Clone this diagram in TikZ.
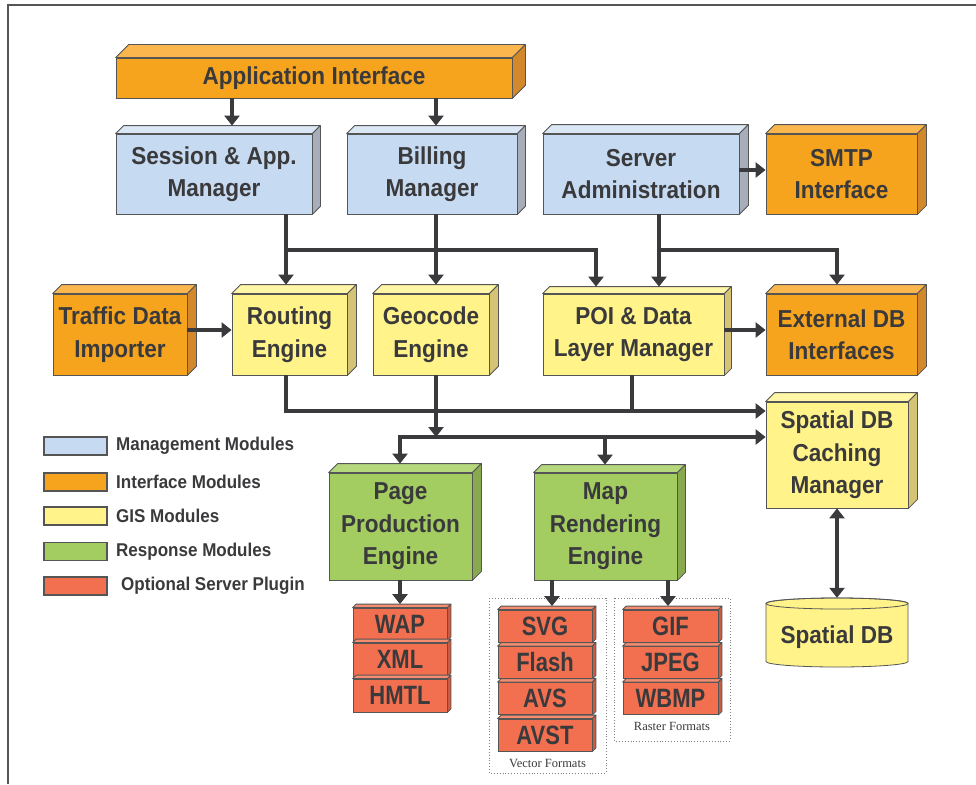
\documentclass[tikz,border=0pt]{standalone}
\usepackage{fontspec}
\setmainfont{Liberation Serif}
\newfontfamily\bfam{Liberation Sans}[FakeStretch=0.92]
\newfontfamily\ffam{Liberation Sans}[FakeStretch=0.83]
\usetikzlibrary{arrows.meta,calc}
\definecolor{edge}{HTML}{555555}
\definecolor{txt}{HTML}{3A3A3C}
\definecolor{mgF}{HTML}{C6DAF1}\definecolor{mgT}{HTML}{DCE7F5}\definecolor{mgS}{HTML}{A7AEBA}
\definecolor{ifF}{HTML}{F6A41E}\definecolor{ifT}{HTML}{FBB74E}\definecolor{ifS}{HTML}{D3882C}
\definecolor{giF}{HTML}{FFF389}\definecolor{giT}{HTML}{FFF6A6}\definecolor{giS}{HTML}{D5C475}
\definecolor{reF}{HTML}{A3CD60}\definecolor{reT}{HTML}{B6D87D}\definecolor{reS}{HTML}{88A94D}
\definecolor{plF}{HTML}{F26F50}\definecolor{plT}{HTML}{F68D70}\definecolor{plS}{HTML}{C95B42}
\tikzset{
  box/.style={draw=edge, line width=0.8pt, inner sep=0pt, align=center, text=txt,
    font=\bfam\bfseries\fontsize{24.5}{32.5}\selectfont},
  fmtbox/.style={box, font=\ffam\bfseries\fontsize{26.5}{30}\selectfont},
  face/.style={draw=edge, line width=0.8pt, line join=round},
  arr/.style={draw=txt, line width=3.2pt, -{Triangle[width=15pt,length=10pt]}},
  ln/.style={draw=txt, line width=3.2pt},
  darr/.style={draw=txt, line width=3.2pt, {Triangle[width=15pt,length=10pt]}-{Triangle[width=15pt,length=10pt]}},
  swatch/.style={draw=edge, line width=1.2pt, minimum width=63pt, minimum height=18pt, inner sep=0pt},
  legtext/.style={anchor=west, text=txt, inner sep=0pt, font=\bfam\bfseries\fontsize{18.5}{20}\selectfont},
  fmtlabel/.style={text=txt, inner sep=0pt, font=\fontsize{12.5}{14}\selectfont},
  dotbox/.style={draw=gray, dotted, line width=0.9pt},
  frameline/.style={draw=edge, line width=2pt}
}
% #1 name, #2 centre, #3 width, #4 height, #5 depth, #6 colour family, #7 style, #8 text
\newcommand\cubebox[8]{%
  \node[#7, fill=#6F, minimum width=#3pt, minimum height=#4pt] (#1) at #2 {#8};
  \filldraw[face, fill=#6T] (#1.north west) -- ++(#5,-#5) -- ($(#1.north east)+(#5,-#5)$) -- (#1.north east) -- cycle;
  \filldraw[face, fill=#6S] (#1.north east) -- ++(#5,-#5) -- ($(#1.south east)+(#5,-#5)$) -- (#1.south east) -- cycle;
  \coordinate (#1-t) at ($(#1.north west)+(#5,-#5)$);
}
\begin{document}
\begin{tikzpicture}[x=1pt,y=-1pt]
\useasboundingbox (0,0) rectangle (976,784);
\fill[white] (0,0) rectangle (976,784);
\draw[frameline] (7,5.5) -- (976,5.5);
\draw[frameline] (7.7,5.5) -- (7.7,784);

% boxes
\cubebox{app}{(314,78)}{396}{40}{13}{if}{box}{Application Interface}
\cubebox{sess}{(214,174)}{196}{80}{8}{mg}{box}{Session \& App.\\Manager}
\cubebox{bill}{(432,174)}{170}{80}{8}{mg}{box}{Billing\\Manager}
\cubebox{srv}{(641,174)}{196}{80}{9}{mg}{box}{Server\\Administration}
\cubebox{smtp}{(841.5,174)}{151}{80}{9}{if}{box}{SMTP\\Interface}
\cubebox{traf}{(120,334.5)}{134}{81}{9}{if}{box}{Traffic Data\\Importer}
\cubebox{rout}{(289.5,334.5)}{115}{81}{9}{gi}{box}{Routing\\Engine}
\cubebox{geo}{(431,334.5)}{116}{81}{9}{gi}{box}{Geocode\\Engine}
\cubebox{poi}{(633.5,334.5)}{181}{81}{7}{gi}{box}{POI \& Data\\Layer Manager}
\cubebox{ext}{(841.5,334.5)}{151}{81}{9}{if}{box}{External DB\\Interfaces}
\cubebox{cache}{(837,455)}{142}{106}{9}{gi}{box}{Spatial DB\\Caching\\Manager}
\cubebox{page}{(400.5,526.5)}{143}{107}{9}{re}{box}{Page\\Production\\Engine}
\cubebox{map}{(605.5,526.5)}{143}{107}{8}{re}{box}{Map\\Rendering\\Engine}

% dotted groups
\draw[dotbox] (489,598) rectangle (606,773);
\draw[dotbox] (614,598) rectangle (730,741);
\node[fmtlabel] (vlab) at (547.5,763) {Vector Formats};
\node[fmtlabel] (rlab) at (672,726) {Raster Formats};

% format boxes
\cubebox{wap}{(400,624)}{94}{32}{3.5}{pl}{fmtbox}{WAP}
\cubebox{xml}{(400,659.5)}{94}{33}{3.5}{pl}{fmtbox}{XML}
\cubebox{hmtl}{(400,695.5)}{94}{33}{3.5}{pl}{fmtbox}{HMTL}
\cubebox{svg}{(545,626)}{94}{32}{3.5}{pl}{fmtbox}{SVG}
\cubebox{flash}{(545,662.5)}{94}{32}{3.5}{pl}{fmtbox}{Flash}
\cubebox{avs}{(545,698.5)}{94}{32}{3.5}{pl}{fmtbox}{AVS}
\cubebox{avst}{(545,735)}{94}{32}{3.5}{pl}{fmtbox}{AVST}
\cubebox{gif}{(670.5,626)}{95}{32}{3.5}{pl}{fmtbox}{GIF}
\cubebox{jpeg}{(670.5,662.5)}{95}{32}{3.5}{pl}{fmtbox}{JPEG}
\cubebox{wbmp}{(670.5,698.5)}{95}{32}{3.5}{pl}{fmtbox}{WBMP}

% spatial DB cylinder
\filldraw[face, fill=giF] (766,603.5) -- (766,661.5) arc[start angle=180, end angle=360, x radius=71pt, y radius=5.5pt]
  -- (908,603.5) arc[start angle=0, end angle=180, x radius=71pt, y radius=5.5pt] -- cycle;
\draw[face] (837,603.5) ellipse [x radius=71pt, y radius=5.5pt];
\node[inner sep=0pt, minimum width=142pt, minimum height=78pt, text=txt,
  font=\bfam\bfseries\fontsize{24.5}{32}\selectfont] (sdb) at (837,637) {Spatial DB};

% legend
\node[swatch, fill=mgF] (sw1) at (75.5,446) {};
\node[swatch, fill=ifF] (sw2) at (75.5,482) {};
\node[swatch, fill=giF] (sw3) at (75.5,516) {};
\node[swatch, fill=reF] (sw4) at (75.5,551.5) {};
\node[swatch, fill=plF] (sw5) at (75.5,586) {};
\node[legtext] (lt1) at (116,446) {Management Modules};
\node[legtext] (lt2) at (116,482) {Interface Modules};
\node[legtext] (lt3) at (116,516) {GIS Modules};
\node[legtext] (lt4) at (116,551.5) {Response Modules};
\node[legtext] (lt5) at (121,586) {Optional Server Plugin};

% connectors
\coordinate (j1) at (286,250);
\coordinate (j2) at (659,250);
\coordinate (j3) at (632,411);
\coordinate (j4) at (605,437);
\draw[arr] (app.south -| 232,0) -- (sess-t -| 232,0);
\draw[arr] (app.south -| 436,0) -- (bill-t -| 436,0);
\draw[arr] (srv.east |- 0,170) -- (smtp.west |- 0,170);
\draw[arr] (sess.south -| 286,0) -- (rout-t -| 286,0);
\draw[arr] (j1) -| (poi-t -| 596,0);
\draw[arr] (bill.south -| 436,0) -- (geo-t -| 436,0);
\draw[arr] (srv.south -| 659,0) -- (poi-t -| 659,0);
\draw[arr] (j2) -| (ext-t -| 837,0);
\draw[arr] (traf.east |- 0,330) -- (rout.west |- 0,330);
\draw[arr] (poi.east |- 0,330) -- (ext.west |- 0,330);
\draw[arr] (rout.south -| 286,0) |- (cache.west |- 0,411);
\draw[ln] (poi.south -| 632,0) -- (j3);
\draw[arr] (geo.south -| 436,0) -- (436,437);
\draw[arr] (j4) -- (cache.west |- 0,437);
\draw[arr] (j4) -| (page-t -| 400,0);
\draw[arr] (j4) -- (map-t -| 605,0);
\draw[arr] (page.south -| 400,0) -- (wap-t -| 400,0);
\draw[arr] (map.south -| 552,0) -- (svg-t -| 552,0);
\draw[arr] (map.south -| 668,0) -- (gif-t -| 668,0);
\draw[darr] (cache.south) -- (sdb.north);
\end{tikzpicture}
\end{document}
